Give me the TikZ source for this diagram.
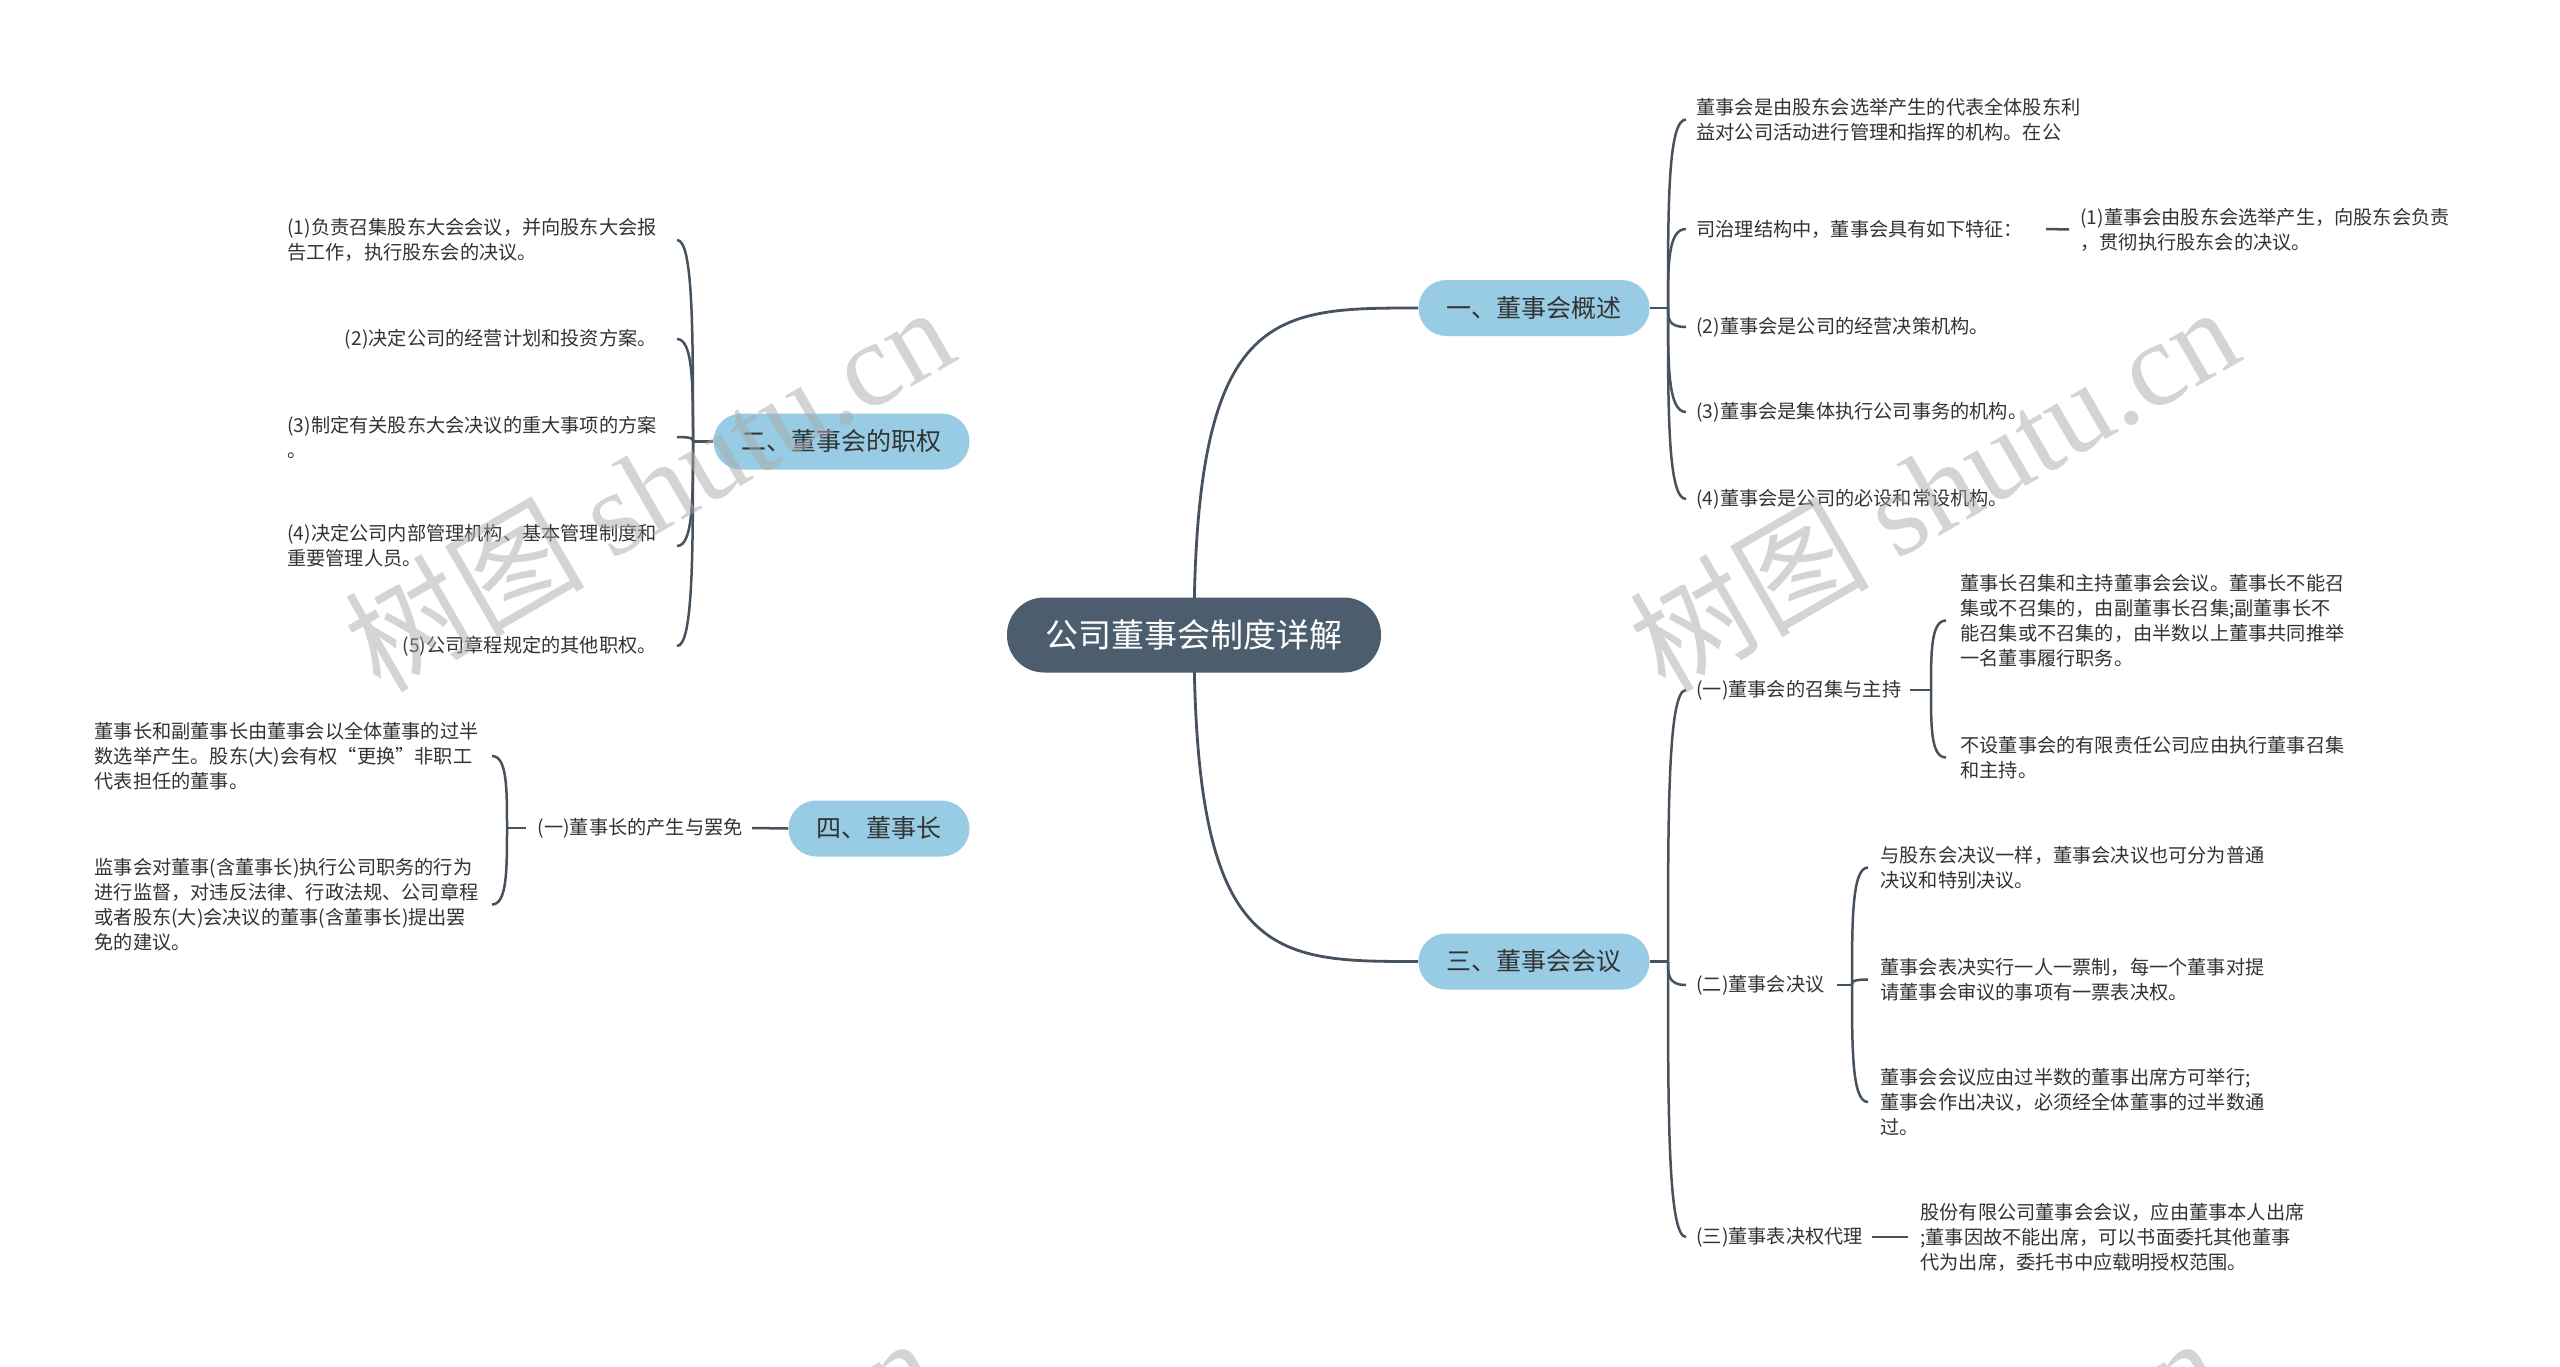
\documentclass[tikz,border=0pt]{standalone}
\usepackage{fontspec}
\setmainfont{Noto Sans CJK SC}
\newfontfamily\wmcjk{Noto Sans CJK SC}
\newfontfamily\wmlat{Liberation Serif}
\usetikzlibrary{calc}
\definecolor{rootc}{HTML}{4C5D6E}
\definecolor{brfill}{HTML}{97CCE4}
\definecolor{linec}{HTML}{46535F}
\definecolor{txtc}{HTML}{333333}
\definecolor{wmc}{HTML}{AAAAAA}
\newcommand\brc[2]{\draw[conn] (#1) .. controls ($(#1)!0.55!(#1|-#2)$) and (#1|-#2) .. (#2);}
\newcommand\mainc[2]{\draw[mainconn] (rc) .. controls (rc|-#1) and ($(rc|-#1)!0.35!(#1)$) .. (#1);}
\begin{document}
\begin{tikzpicture}[x=0.5pt,y=-0.5pt,
  rootbox/.style={fill=rootc, text=white, rounded corners=18.5pt, minimum height=37.5pt, minimum width=187pt, inner xsep=10pt, inner ysep=0pt, font=\fontsize{16.5pt}{19pt}\selectfont},
  branchbox/.style={fill=brfill, text=txtc, rounded corners=13.9pt, minimum height=28pt, inner xsep=14pt, inner ysep=0pt, font=\fontsize{12.5pt}{15pt}\selectfont},
  leaf/.style={text=txtc, align=left, inner xsep=3pt, inner ysep=0pt, font=\fontsize{9.6pt}{12.5pt}\selectfont},
  leafR/.style={leaf, anchor=west},
  leafL/.style={leaf, anchor=east},
  conn/.style={draw=linec, line width=1.25pt},
  mainconn/.style={draw=linec, line width=1.4pt},
  wm/.style={rotate=30, text=wmc, text opacity=0.5, inner sep=0pt, font=\fontsize{60pt}{64pt}\selectfont}
]
\fill[white] (0,0) rectangle (2560,1366);
\useasboundingbox (0,0) rectangle (2560,1366);

% ---------- branch nodes ----------
\coordinate (rc) at (1194,635);
\node[branchbox] (b1) at (1534,308) {一、董事会概述};
\node[branchbox] (b2) at (841.5,441.5) {二、董事会的职权};
\node[branchbox] (b3) at (1534,961.5) {三、董事会会议};
\node[branchbox] (b4) at (879,828.5) {四、董事长};

% ---------- main connectors, then root on top ----------
\mainc{b1.west}
\mainc{b2.east}
\mainc{b3.west}
\mainc{b4.east}
\node[rootbox] (rt) at (rc) {公司董事会制度详解};

% branch 1 children
\node[leafR] (c1) at (1690,119.5) {董事会是由股东会选举产生的代表全体股东利\\益对公司活动进行管理和指挥的机构。在公};
\node[leafR] (c2) at (1690,229) {司治理结构中，董事会具有如下特征：};
\node[leafR] (c2a) at (2074,229.5) {(1)董事会由股东会选举产生，向股东会负责\\，贯彻执行股东会的决议。};
\node[leafR] (c3) at (1690,327) {(2)董事会是公司的经营决策机构。};
\node[leafR] (c4) at (1690,412) {(3)董事会是集体执行公司事务的机构。};
\node[leafR] (c5) at (1690,499) {(4)董事会是公司的必设和常设机构。};

% branch 2 children
\node[leafL] (l1) at (663,240) {(1)负责召集股东大会会议，并向股东大会报\\告工作，执行股东会的决议。};
\node[leafL] (l2) at (663,339) {(2)决定公司的经营计划和投资方案。};
\node[leafL] (l3) at (663,437) {(3)制定有关股东大会决议的重大事项的方案\\。};
\node[leafL] (l4) at (663,546) {(4)决定公司内部管理机构、基本管理制度和\\重要管理人员。};
\node[leafL] (l5) at (663,646) {(5)公司章程规定的其他职权。};

% branch 4 children
\node[leafL] (s1) at (749,828) {(一)董事长的产生与罢免};
\node[leafL] (d1) at (485,756) {董事长和副董事长由董事会以全体董事的过半\\数选举产生。股东(大)会有权“更换”非职工\\代表担任的董事。};
\node[leafL] (d2) at (485,904.5) {监事会对董事(含董事长)执行公司职务的行为\\进行监督，对违反法律、行政法规、公司章程\\或者股东(大)会决议的董事(含董事长)提出罢\\免的建议。};

% branch 3 children
\node[leafR] (t1) at (1690,690) {(一)董事会的召集与主持};
\node[leafR] (t1a) at (1954,620.5) {董事长召集和主持董事会会议。董事长不能召\\集或不召集的，由副董事长召集;副董事长不\\能召集或不召集的，由半数以上董事共同推举\\一名董事履行职务。};
\node[leafR] (t1b) at (1954,757.5) {不设董事会的有限责任公司应由执行董事召集\\和主持。};
\node[leafR] (t2) at (1690,985) {(二)董事会决议};
\node[leafR] (t2a) at (1874,867.5) {与股东会决议一样，董事会决议也可分为普通\\决议和特别决议。};
\node[leafR] (t2b) at (1874,979.5) {董事会表决实行一人一票制，每一个董事对提\\请董事会审议的事项有一票表决权。};
\node[leafR] (t2c) at (1874,1102) {董事会会议应由过半数的董事出席方可举行;\\董事会作出决议，必须经全体董事的过半数通\\过。};
\node[leafR] (t3) at (1690,1237) {(三)董事表决权代理};
\node[leafR] (t3a) at (1914,1237) {股份有限公司董事会会议，应由董事本人出席\\;董事因故不能出席，可以书面委托其他董事\\代为出席，委托书中应载明授权范围。};

% ---------- junctions and ends ----------
\coordinate (j1) at (1668,308);
\coordinate (j2) at (693,441.5);
\coordinate (j3) at (1668,961.5);
\coordinate (j4) at (507,828);
\coordinate (j5) at (1931,690);
\coordinate (j6) at (1852,985);
\foreach \n in {c1,c2,c3,c4,c5,t1,t2,t3} {\coordinate (e-\n) at ([xshift=-2pt]\n.west);}
\foreach \n in {l1,l2,l3,l4,l5} {\coordinate (e-\n) at ([xshift=7pt]\n.east);}
\foreach \n in {d1,d2} {\coordinate (e-\n) at ([xshift=3.5pt]\n.east);}
\foreach \n in {t1a,t1b} {\coordinate (e-\n) at ([xshift=-4pt]\n.west);}
\foreach \n in {t2a,t2b,t2c} {\coordinate (e-\n) at ([xshift=-3pt]\n.west);}

% ---------- connectors ----------
\draw[conn] (b1.east) -- (j1);
\foreach \n in {c1,c2,c3,c4,c5} {\brc{j1}{e-\n}}
\draw[conn] ([xshift=8.5pt]c2.east) -- ([xshift=-2.5pt]c2a.west);

\draw[conn] (b2.west) -- (j2);
\foreach \n in {l1,l2,l3,l4,l5} {\brc{j2}{e-\n}}

\draw[conn] (b4.west) -- ([xshift=1.5pt]s1.east);
\draw[conn] ([xshift=-2.5pt]s1.west) -- (j4);
\foreach \n in {d1,d2} {\brc{j4}{e-\n}}

\draw[conn] (b3.east) -- (j3);
\foreach \n in {t1,t2,t3} {\brc{j3}{e-\n}}
\draw[conn] ([xshift=1pt]t1.east) -- (j5);
\foreach \n in {t1a,t1b} {\brc{j5}{e-\n}}
\draw[conn] ([xshift=3pt]t2.east) -- (j6);
\foreach \n in {t2a,t2b,t2c} {\brc{j6}{e-\n}}
\draw[conn] ([xshift=1.5pt]t3.east) -- ([xshift=-3pt]t3a.west);

% ---------- watermark ----------
\begin{scope}
\clip (0,0) rectangle (2560,1366);
\foreach \x/\y in {648/487,1933/487,630/1518,1915/1518}
  \node[wm] (wm-\x-\y) at (\x,\y) {{\wmcjk 树图} {\wmlat shutu.cn}};
\end{scope}
\end{tikzpicture}
\end{document}
